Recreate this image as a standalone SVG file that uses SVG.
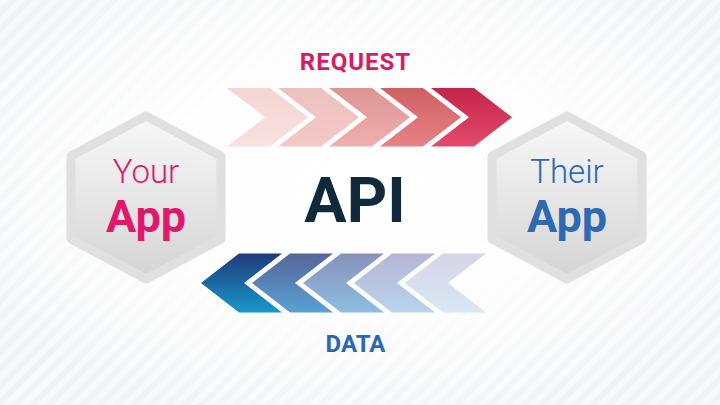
<svg xmlns="http://www.w3.org/2000/svg" width="720" height="405" viewBox="0 0 720 405">
  <defs>
    <pattern id="stripes" width="12" height="12" patternUnits="userSpaceOnUse" patternTransform="rotate(45)">
      <rect x="0" y="0" width="6" height="12" fill="#ffffff" opacity="0.45"/>
    </pattern>
    <radialGradient id="bgGlow" cx="0.5" cy="0.45" r="0.6">
      <stop offset="0" stop-color="#ffffff" stop-opacity="1"/>
      <stop offset="0.55" stop-color="#ffffff" stop-opacity="0.8"/>
      <stop offset="1" stop-color="#ffffff" stop-opacity="0.1"/>
    </radialGradient>
    <linearGradient id="hexFill" x1="0" y1="0" x2="0" y2="1">
      <stop offset="0" stop-color="#f8f8f8"/>
      <stop offset="1" stop-color="#d4d4d4"/>
    </linearGradient>
    <linearGradient id="r1" x1="0" y1="0" x2="0" y2="1"><stop offset="0" stop-color="#f4d6d3"/><stop offset="1" stop-color="#f8e1e0"/></linearGradient>
    <linearGradient id="r2" x1="0" y1="0" x2="0" y2="1"><stop offset="0" stop-color="#ecc2bd"/><stop offset="1" stop-color="#f3c8c8"/></linearGradient>
    <linearGradient id="r3" x1="0" y1="0" x2="0" y2="1"><stop offset="0" stop-color="#dc9592"/><stop offset="1" stop-color="#efafb0"/></linearGradient>
    <linearGradient id="r4" x1="0" y1="0" x2="0" y2="1"><stop offset="0" stop-color="#cf6062"/><stop offset="1" stop-color="#e78286"/></linearGradient>
    <linearGradient id="r5" x1="0" y1="0" x2="0" y2="1"><stop offset="0" stop-color="#c32448"/><stop offset="1" stop-color="#e34a6b"/></linearGradient>
    <linearGradient id="d1" x1="0" y1="0" x2="0" y2="1"><stop offset="0" stop-color="#213a7a"/><stop offset="1" stop-color="#1798cb"/></linearGradient>
    <linearGradient id="d2" x1="0" y1="0" x2="0" y2="1"><stop offset="0" stop-color="#566598"/><stop offset="1" stop-color="#58a2d3"/></linearGradient>
    <linearGradient id="d3" x1="0" y1="0" x2="0" y2="1"><stop offset="0" stop-color="#8890b8"/><stop offset="1" stop-color="#8ebee2"/></linearGradient>
    <linearGradient id="d4" x1="0" y1="0" x2="0" y2="1"><stop offset="0" stop-color="#b4b6d4"/><stop offset="1" stop-color="#b9d4ed"/></linearGradient>
    <linearGradient id="d5" x1="0" y1="0" x2="0" y2="1"><stop offset="0" stop-color="#d5d5e6"/><stop offset="1" stop-color="#d9e7f4"/></linearGradient>
  </defs>
  <style>
    .hex { fill: url(#hexFill); stroke: #e0e0e0; stroke-width: 9; stroke-linejoin: round; }
    .t { font-family: Roboto, "Liberation Sans", Arial, sans-serif; text-anchor: middle; }
    .light { font-weight: 300; font-size: 33px; }
    .bold { font-weight: 700; font-size: 45px; }
    .lbl { font-weight: 700; font-size: 24px; }
    .pink { fill: #e0186b; }
    .blue { fill: #2d6ab3; }
  </style>

  <!-- background -->
  <rect x="0" y="0" width="720" height="405" fill="#f1f2f4"/>
  <rect x="0" y="0" width="720" height="405" fill="url(#stripes)"/>
  <rect x="0" y="0" width="720" height="405" fill="url(#bgGlow)"/>

  <!-- connectors: request and data chevron flows -->
  <g id="connectors">
    <g id="request-flow">
      <path d="M227 88 h43 l38 29.25 l-38 29.25 h-43 l38 -29.25 z" fill="url(#r1)"/>
      <path d="M278 88 h43 l38 29.25 l-38 29.25 h-43 l38 -29.25 z" fill="url(#r2)"/>
      <path d="M329 88 h43 l38 29.25 l-38 29.25 h-43 l38 -29.25 z" fill="url(#r3)"/>
      <path d="M380 88 h43 l38 29.25 l-38 29.25 h-43 l38 -29.25 z" fill="url(#r4)"/>
      <path d="M431 88 h43 l38 29.25 l-38 29.25 h-43 l38 -29.25 z" fill="url(#r5)"/>
      <text class="t lbl" x="355.5" y="70" fill="#d91a61" letter-spacing="1">REQUEST</text>
    </g>
    <g id="data-flow">
      <path d="M282 253.5 h-43 l-38 29.5 l38 29.5 h43 l-38 -29.5 z" fill="url(#d1)"/>
      <path d="M333 253.5 h-43 l-38 29.5 l38 29.5 h43 l-38 -29.5 z" fill="url(#d2)"/>
      <path d="M384 253.5 h-43 l-38 29.5 l38 29.5 h43 l-38 -29.5 z" fill="url(#d3)"/>
      <path d="M435 253.5 h-43 l-38 29.5 l38 29.5 h43 l-38 -29.5 z" fill="url(#d4)"/>
      <path d="M486 253.5 h-43 l-38 29.5 l38 29.5 h43 l-38 -29.5 z" fill="url(#d5)"/>
      <text class="t lbl" x="355.5" y="352" fill="#2c68b0">DATA</text>
    </g>
  </g>

  <g id="your-app">
    <path class="hex" d="M146 116 L221 156 L221 239 L146 279 L71 239 L71 156 Z"/>
    <text class="t light pink" x="146" y="183">Your</text>
    <text class="t bold pink" x="146" y="232">App</text>
  </g>

  <g id="api">
    <text class="t" x="355" y="222" font-size="63" font-weight="700" fill="#10293b">API</text>
  </g>

  <g id="their-app">
    <path class="hex" d="M567 116 L642 156 L642 239 L567 279 L492 239 L492 156 Z"/>
    <text class="t light blue" x="567" y="183">Their</text>
    <text class="t bold blue" x="567" y="232">App</text>
  </g>
</svg>
